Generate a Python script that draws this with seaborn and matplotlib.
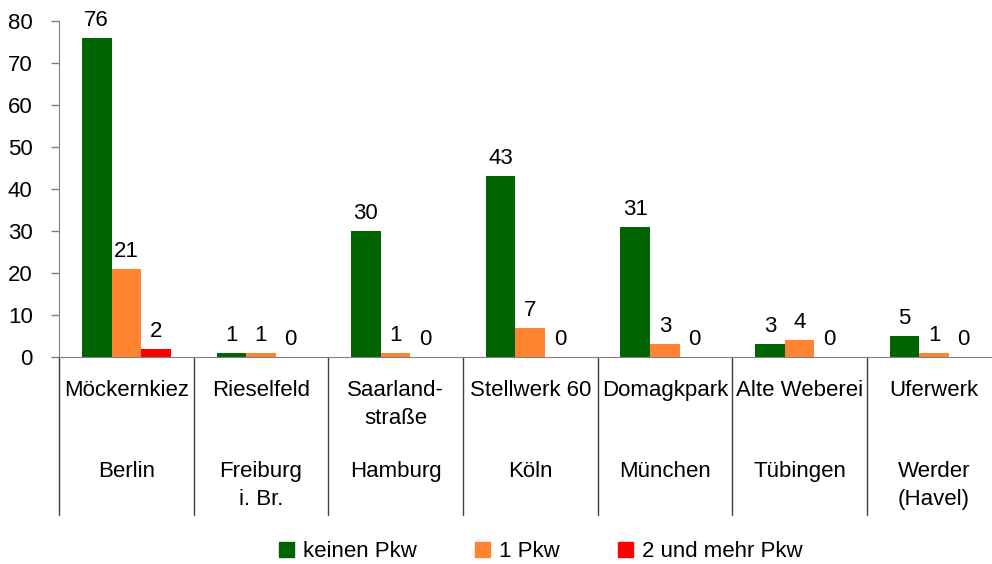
import pandas as pd
import matplotlib.pyplot as plt
import matplotlib.transforms as mtransforms
import seaborn as sns

# Daten
quartiere = ['Möckernkiez', 'Rieselfeld', 'Saarland-\nstraße', 'Stellwerk 60',
             'Domagkpark', 'Alte Weberei', 'Uferwerk']
staedte = ['Berlin', 'Freiburg\ni. Br.', 'Hamburg', 'Köln', 'München',
           'Tübingen', 'Werder\n(Havel)']
serien = ['keinen Pkw', '1 Pkw', '2 und mehr Pkw']
keinen_pkw = [76, 1, 30, 43, 31, 3, 5]
ein_pkw = [21, 1, 1, 7, 3, 4, 1]
zwei_pkw = [2, 0, 0, 0, 0, 0, 0]
farben = ['#006400', '#FF8330', '#FF0000']

rows = []
for werte, name in zip([keinen_pkw, ein_pkw, zwei_pkw], serien):
    for q, v in zip(quartiere, werte):
        rows.append({'Quartier': q, 'Serie': name, 'Anzahl': v})
df = pd.DataFrame(rows)

sns.set_style('white')
plt.rcParams['font.family'] = ['Liberation Sans', 'DejaVu Sans']
plt.rcParams['font.size'] = 16
plt.rcParams['text.color'] = 'black'
plt.rcParams['ytick.labelcolor'] = 'black'

fig = plt.figure(figsize=(9.92, 5.64), dpi=100)
ax = fig.add_axes([0.0595, 0.367, 0.9405, 0.5958])

sns.barplot(data=df, x='Quartier', y='Anzahl', hue='Serie', order=quartiere,
            hue_order=serien, palette=farben, saturation=1, width=0.66, ax=ax,
            edgecolor='none', linewidth=0, legend=False)

for cont in ax.containers:
    ax.bar_label(cont, fmt='%d', padding=5, fontsize=16, color='black')

ax.set_ylim(0, 80)
ax.set_yticks(range(0, 81, 10))
ax.set_xlim(-0.5, 6.43)
ax.set_xticks([])
ax.set_xlabel('')
ax.set_ylabel('')
ax.tick_params(axis='y', which='both', left=True, length=6, width=1,
               color='#808080', labelsize=16, labelcolor='black', pad=13)

for side in ['top', 'right']:
    ax.spines[side].set_visible(False)
ax.spines['left'].set_color('#808080')
ax.spines['bottom'].set_color('#808080')

trans = mtransforms.blended_transform_factory(ax.transData, ax.transAxes)
for i in range(len(quartiere)):
    ax.text(i, -0.067, quartiere[i], transform=trans, ha='center', va='top',
            fontsize=16, linespacing=1.45, color='black')
    ax.text(i, -0.308, staedte[i], transform=trans, ha='center', va='top',
            fontsize=16, linespacing=1.45, color='black')
for b in [x - 0.5 for x in range(len(quartiere))]:
    ax.plot([b, b], [0, -0.47], transform=trans, color='#404040', lw=1,
            clip_on=False)

handles = [plt.Rectangle((0, 0), 1, 1, color=c) for c in farben]
fig.legend(handles, serien, loc='center', bbox_to_anchor=(0.545, 0.022),
           ncol=3, frameon=False, fontsize=16, handlelength=0.7,
           handleheight=0.7, handletextpad=0.4, columnspacing=2.6)

plt.savefig('out.png', dpi=100)
